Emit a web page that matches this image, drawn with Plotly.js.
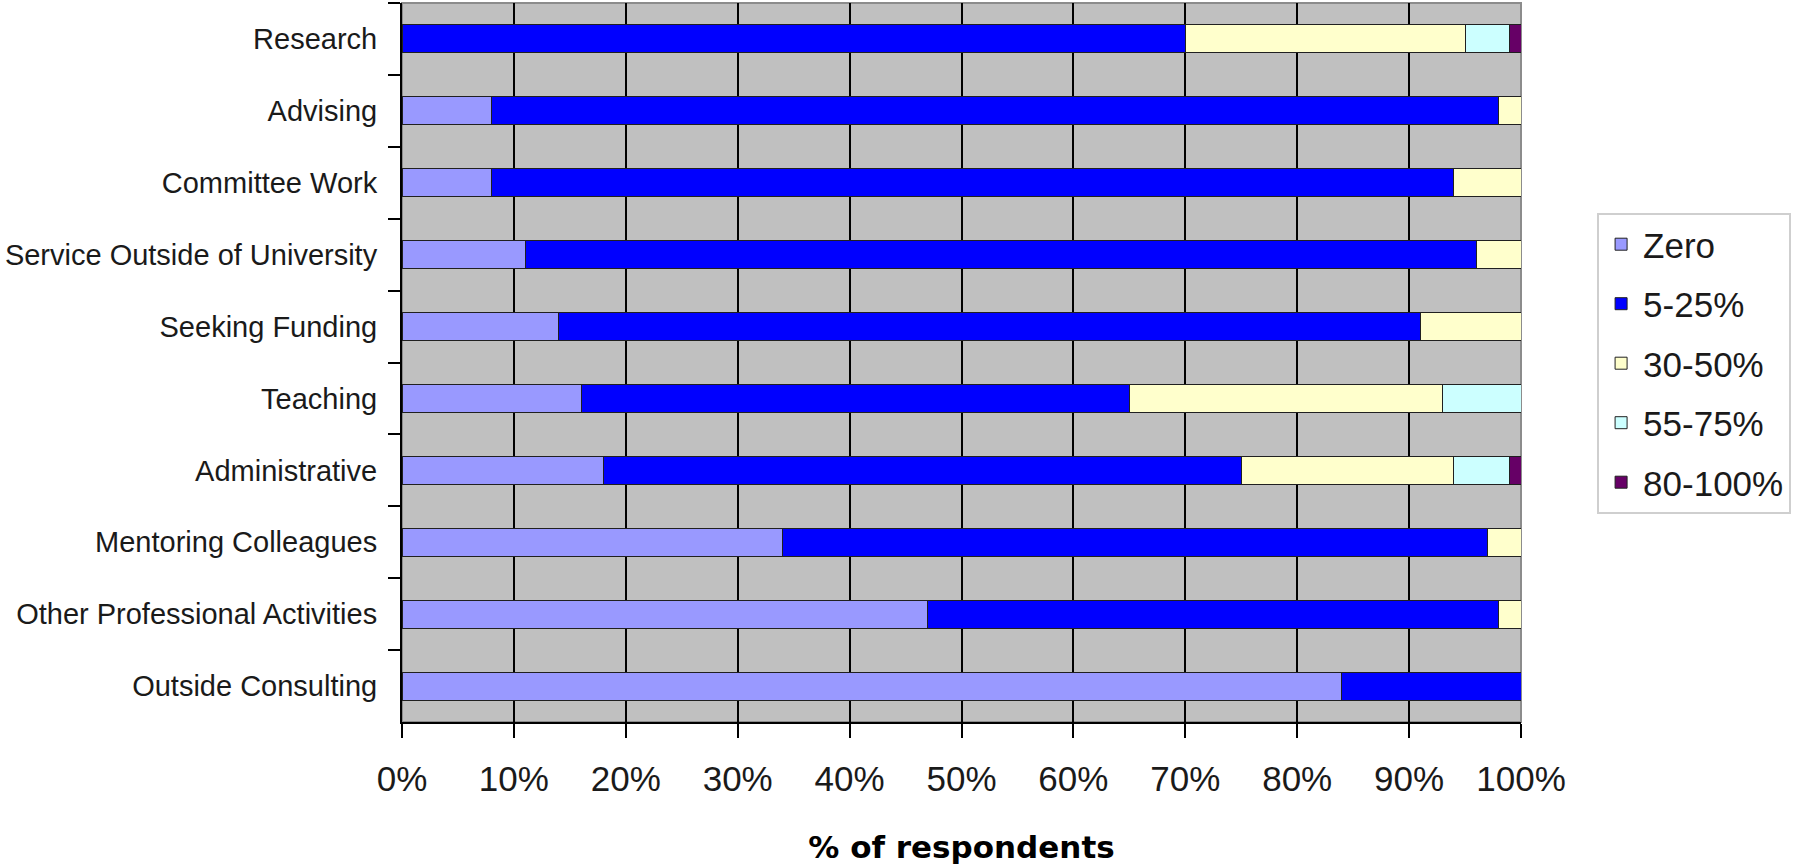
<!DOCTYPE html>
<html>
<head>
<meta charset="utf-8">
<script src="https://cdn.plot.ly/plotly-3.0.1.min.js"></script>
<style>
  html, body { margin: 0; padding: 0; background: #ffffff; }
  #chart { width: 1795px; height: 865px; }
</style>
</head>
<body>
<div id="chart"></div>
<script>
// Activities, listed top to bottom
const activities = [
  "Research",
  "Advising",
  "Committee Work",
  "Service Outside of University",
  "Seeking Funding",
  "Teaching",
  "Administrative",
  "Mentoring Colleagues",
  "Other Professional Activities",
  "Outside Consulting"
];

// Share of respondents (%) per time-share band, one value per activity
const zero      = [ 0,  8,  8, 11, 14, 16, 18, 34, 47, 84];
const pct5to25  = [70, 90, 86, 85, 77, 49, 57, 63, 51, 16];
const pct30to50 = [25,  2,  6,  4,  9, 28, 19,  3,  2,  0];
const pct55to75 = [ 4,  0,  0,  0,  0,  7,  5,  0,  0,  0];
const pct80to100= [ 1,  0,  0,  0,  0,  0,  1,  0,  0,  0];

const bandNames  = ["Zero", "5-25%", "30-50%", "55-75%", "80-100%"];
const bandValues = [zero, pct5to25, pct30to50, pct55to75, pct80to100];
const bandColors = ["#9999FF", "#0000FF", "#FFFFCC", "#CCFFFF", "#660066"];

const traces = bandNames.map((name, i) => ({
  type: "bar",
  orientation: "h",
  name: name,
  legendgroup: name,
  y: activities,
  x: bandValues[i],
  marker: {
    color: bandColors[i],
    line: { color: "#202020", width: 1 }
  },
  hoverinfo: "name+x"
}));

const layout = {
  width: 1795,
  height: 865,
  margin: { l: 402, r: 274, t: 3, b: 143, pad: 0 },
  paper_bgcolor: "#ffffff",
  plot_bgcolor: "#C0C0C0",
  barmode: "stack",
  bargap: 0.61,
  font: { family: "Liberation Sans, Arial, sans-serif", color: "#1a1a1a" },
  showlegend: true,
  legend: {
    x: 1.068, xanchor: "left",
    y: 0.708, yanchor: "top",
    traceorder: "grouped",
    tracegroupgap: 11,
    bgcolor: "#ffffff",
    bordercolor: "#cfcfcf",
    borderwidth: 2,
    itemwidth: 34,
    font: { size: 35, family: "Liberation Sans, Arial, sans-serif", color: "#1a1a1a" }
  },
  xaxis: {
    range: [0, 100],
    dtick: 10,
    tick0: 0,
    ticksuffix: "%",
    ticks: "outside",
    ticklen: 14,
    tickwidth: 2,
    tickcolor: "#000000",
    showgrid: true,
    gridcolor: "#000000",
    gridwidth: 2,
    zeroline: false,
    showline: true,
    linecolor: "#000000",
    linewidth: 2,
    tickfont: { size: 35 },
    ticklabelstandoff: 11,
    title: {
      text: "% of respondents",
      font: { family: "DejaVu Sans, Verdana, sans-serif", size: 31, color: "#000000", weight: "bold" },
      standoff: 40
    },
    fixedrange: true
  },
  yaxis: {
    type: "category",
    categoryorder: "array",
    categoryarray: activities,
    autorange: "reversed",
    tickson: "boundaries",
    ticks: "outside",
    ticklen: 12,
    tickwidth: 2,
    tickcolor: "#000000",
    showgrid: false,
    zeroline: false,
    showline: true,
    linecolor: "#000000",
    linewidth: 2,
    tickfont: { size: 29 },
    ticklabelstandoff: 17,
    fixedrange: true
  },
  shapes: [
    {
      type: "rect", xref: "paper", yref: "paper",
      x0: 0, x1: 1, y0: 0, y1: 1,
      line: { color: "#8c8c8c", width: 2 },
      layer: "below"
    }
  ]
};

Plotly.newPlot("chart", traces, layout, { displayModeBar: false, staticPlot: true });
</script>
</body>
</html>
